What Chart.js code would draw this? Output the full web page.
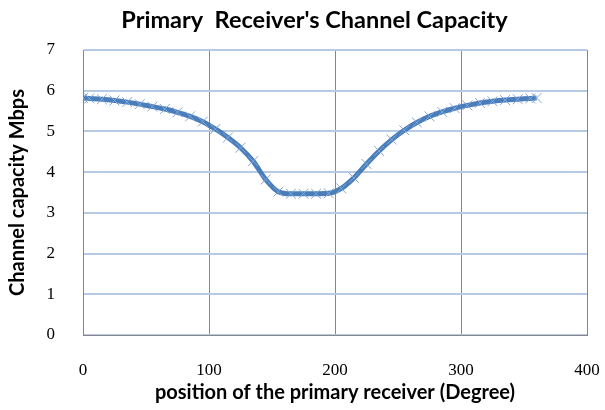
<!DOCTYPE html>
<html lang="en">
<head>
    <meta charset="UTF-8">
    <title>Primary Receiver's Channel Capacity</title>
    <script src="https://cdn.jsdelivr.net/npm/chart.js"></script>
    <style>
        body { margin: 0; background: #fff; }
        #wrap { width: 605px; height: 410px; }
    </style>
</head>
<body>
    <div id="wrap"><canvas id="capChart" width="605" height="410"></canvas></div>
    <script>
        // position of the primary receiver (degree) and capacity (Mbps)
        const positions = [0, 5, 15, 25, 35, 45, 55, 65, 75, 85, 95, 105, 115, 125, 135, 145, 155, 165, 175,
            185, 195, 205, 215, 225, 235, 245, 255, 265, 275, 285, 295, 305, 315, 325, 335, 345, 355, 360];
        const capacity = [5.82, 5.81, 5.79, 5.76, 5.72, 5.67, 5.61, 5.55, 5.47, 5.37, 5.24, 5.06, 4.85, 4.6, 4.27, 3.82, 3.52, 3.47, 3.47,
            3.47, 3.48, 3.6, 3.86, 4.2, 4.52, 4.8, 5.03, 5.22, 5.37, 5.48, 5.57, 5.64, 5.7, 5.74, 5.77, 5.79, 5.81, 5.82];
        const xTicks = [0, 100, 200, 300, 400];
        const yTicks = [0, 1, 2, 3, 4, 5, 6, 7];

        const points = positions.map((p, i) => ({ x: p, y: capacity[i] }));

        const ctx = document.getElementById('capChart').getContext('2d');
        new Chart(ctx, {
            type: 'line',
            data: {
                datasets: [{
                    data: points,
                    borderColor: '#4a7ebb',
                    borderWidth: 5,
                    cubicInterpolationMode: 'monotone',
                    pointStyle: 'crossRot',
                    pointRadius: 7,
                    pointBorderColor: '#7fa6d9',
                    pointBorderWidth: 1,
                    fill: false
                }]
            },
            options: {
                responsive: false,
                animation: false,
                // left padding shifts the main title centre to the right, like the original
                layout: { padding: { left: 24, right: 0, top: 0, bottom: 0 } },
                plugins: {
                    legend: { display: false },
                    tooltip: { enabled: false },
                    title: {
                        display: true,
                        text: "Primary  Receiver's Channel Capacity",
                        color: '#000',
                        font: { family: 'Lato', size: 23.5, weight: 'bold' },
                        padding: { top: 6, bottom: 15.8 }
                    }
                },
                scales: {
                    x: {
                        type: 'linear',
                        min: 0,
                        max: 400,
                        afterBuildTicks: s => { s.ticks = xTicks.map(v => ({ value: v })); },
                        afterFit: s => { s.height = 75; s.paddingRight = 18; },
                        ticks: {
                            color: '#000',
                            padding: 25,
                            font: { family: 'Liberation Serif', size: 17 }
                        },
                        grid: { color: '#868686', lineWidth: 1, drawTicks: false },
                        border: { color: '#868686', width: 1 },
                        title: {
                            display: true,
                            text: 'position of the primary receiver (Degree)',
                            color: '#000',
                            font: { family: 'Lato', size: 20, weight: 'bold' },
                            padding: { top: 0, bottom: 5 }
                        }
                    },
                    y: {
                        min: 0,
                        max: 7,
                        afterBuildTicks: s => { s.ticks = yTicks.map(v => ({ value: v })); },
                        afterFit: s => { s.width = 59; },
                        ticks: {
                            color: '#000',
                            padding: 28,
                            font: { family: 'Liberation Serif', size: 17 }
                        },
                        grid: { color: '#b7cae4', lineWidth: 2, drawTicks: false },
                        border: { color: '#868686', width: 1 },
                        title: {
                            display: true,
                            text: 'Channel capacity Mbps',
                            color: '#000',
                            font: { family: 'Lato', size: 20, weight: 'bold' },
                            padding: { top: -18, bottom: 0 }
                        }
                    }
                }
            }
        });
    </script>
</body>
</html>
